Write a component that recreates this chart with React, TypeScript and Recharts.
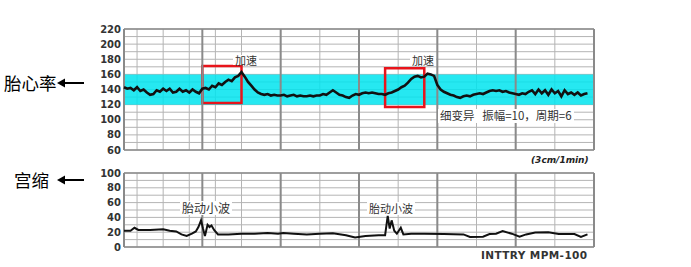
import { LineChart, Line, XAxis, YAxis, CartesianGrid, ReferenceArea, ReferenceLine } from 'recharts';

// fetal heart rate, one sample every 2.5 s over 6 minutes
const fhrValues = [
  143, 141, 142, 139, 143, 138, 140, 136, 133, 134, 139, 137,
  141, 138, 141, 136, 137, 141, 137, 139, 136, 140, 137, 135,
  141, 142, 140, 145, 143, 148, 146, 150, 153, 151, 156, 158,
  163, 157, 150, 145, 140, 136, 134, 133, 134, 132, 133, 132,
  132, 133, 131, 132, 133, 131, 132, 131, 131, 132, 131, 132,
  132, 134, 133, 136, 139, 136, 133, 132, 130, 129, 132, 134,
  133, 135, 136, 135, 136, 135, 134, 134, 133, 135, 136, 138,
  140, 143, 145, 149, 154, 157, 158, 156, 157, 161, 160, 158,
  146, 140, 137, 135, 133, 132, 130, 129, 131, 132, 131, 133,
  134, 135, 134, 136, 138, 139, 138, 139, 137, 138, 136, 135,
  134, 133, 135, 134, 137, 139, 134, 140, 135, 139, 133, 140,
  135, 138, 131, 139, 134, 136, 133, 136, 132, 134, 135,
];

// uterine contraction trace (seconds / value)
const tocoSeconds = [
  0, 5, 8, 11, 20, 30, 35, 40, 44, 48, 52, 55, 57, 59, 60.5, 62, 64, 65.5, 67, 69, 72,
  80, 90, 100, 110, 118, 122, 130, 140, 150, 160, 170, 177, 185, 195, 200, 202, 203.5,
  205, 207, 209, 212, 214, 220, 230, 245, 260, 265, 275, 280, 285, 290, 297, 303, 308,
  315, 325, 333, 345, 350, 355,
];
const tocoValues = [
  22, 22, 26, 23, 23, 24, 22, 21, 17, 15, 18, 21, 27, 36, 25, 15, 30, 27, 29, 23, 17,
  17, 18, 18, 19, 18, 19, 18, 17, 18, 18.5, 16, 13, 15, 16, 16, 42, 25,
  36, 22, 18, 26, 17, 18, 18, 17.5, 17, 13.5, 14, 17.5, 18, 21.5, 18, 14, 17,
  19.5, 20, 17.5, 17.5, 13.5, 17,
];

const fhrTicks = [60, 80, 100, 120, 140, 160, 180, 200, 220];
const fhrGrid = [60, 70, 80, 90, 100, 110, 120, 130, 140, 150, 160, 170, 180, 190, 200, 210, 220];
const tocoTicks = [0, 20, 40, 60, 80, 100];
const tocoGrid = [0, 10, 20, 30, 40, 50, 60, 70, 80, 90, 100];
const timeGrid = [
  0, 10, 20, 30, 40, 50, 60, 70, 80, 90, 100, 110, 120, 130, 140, 150, 160, 170, 180,
  190, 200, 210, 220, 230, 240, 250, 260, 270, 280, 290, 300, 310, 320, 330, 340, 350, 360,
];
const minuteLines = [0, 60, 120, 180, 240, 300, 360];
const accelBoxes = [
  { x1: 60, x2: 90, y1: 122, y2: 171 },
  { x1: 200, x2: 230, y1: 117, y2: 168 },
];

const fhrData = fhrValues.map((v, i) => ({ t: i * 2.5, fhr: v }));
const tocoData = tocoSeconds.map((t, i) => ({ t, toco: tocoValues[i] }));

const tickStyle = { fill: '#333', fontSize: 10, fontWeight: 700, fontFamily: 'DejaVu Sans' };
const cjk = '"Noto Sans CJK SC", sans-serif';

function Arrow({ top }: { top: number }) {
  return (
    <svg width={30} height={12} style={{ position: 'absolute', left: 56, top }}>
      <line x1={4} y1={6} x2={28} y2={6} stroke="#000" strokeWidth={2} />
      <path d="M1 6 L9 1.5 L9 10.5 Z" fill="#000" />
    </svg>
  );
}

function Note({ left, top, size, lh, children }: { left: number; top: number; size: number; lh?: number; children: any }) {
  return (
    <div
      style={{
        position: 'absolute', left, top, fontSize: size, lineHeight: lh ? `${lh}px` : 1, fontFamily: cjk,
        color: '#333', background: '#fff', padding: lh ? '0 2px' : '1px 2px', whiteSpace: 'pre',
      }}
    >
      {children}
    </div>
  );
}

export default function App() {
  return (
    <div style={{ position: 'absolute', left: 0, top: 0, width: 691, height: 267, background: '#fff', overflow: 'hidden' }}>
      <LineChart
        width={691}
        height={160}
        data={fhrData}
        margin={{ top: 29, right: 97, bottom: 10, left: 84 }}
        style={{ position: 'absolute', left: 0, top: 0 }}
      >
        <CartesianGrid stroke="#b4b4b4" horizontalValues={fhrGrid} verticalValues={timeGrid} />
        <ReferenceArea y1={120} y2={160} fill="#00e4ef" fillOpacity={0.85} stroke="none" />
        {minuteLines.map((m) => (
          <ReferenceLine key={m} x={m} stroke="#8a8a8a" strokeWidth={2} />
        ))}
        <ReferenceLine y={60} stroke="#8a8a8a" strokeWidth={1.5} />
        <ReferenceLine y={220} stroke="#8a8a8a" strokeWidth={1.5} />
        <XAxis dataKey="t" type="number" domain={[0, 360]} hide />
        <YAxis
          domain={[60, 220]}
          ticks={fhrTicks}
          interval={0}
          width={40}
          axisLine={false}
          tickLine={false}
          tickSize={0}
          tickMargin={3}
          tick={tickStyle}
        />
        {accelBoxes.map((b, i) => (
          <ReferenceArea key={i} x1={b.x1} x2={b.x2} y1={b.y1} y2={b.y2} fill="none" stroke="#e8141b" strokeWidth={2.5} />
        ))}
        <Line dataKey="fhr" type="linear" stroke="#111" strokeWidth={2.6} dot={false} isAnimationActive={false} />
      </LineChart>

      <LineChart
        width={691}
        height={107}
        data={tocoData}
        margin={{ top: 13, right: 97, bottom: 20, left: 84 }}
        style={{ position: 'absolute', left: 0, top: 160 }}
      >
        <CartesianGrid stroke="#b4b4b4" horizontalValues={tocoGrid} verticalValues={timeGrid} />
        {minuteLines.map((m) => (
          <ReferenceLine key={m} x={m} stroke="#8a8a8a" strokeWidth={2} />
        ))}
        <ReferenceLine y={0} stroke="#8a8a8a" strokeWidth={1.5} />
        <ReferenceLine y={100} stroke="#8a8a8a" strokeWidth={1.5} />
        <XAxis dataKey="t" type="number" domain={[0, 360]} hide />
        <YAxis
          domain={[0, 100]}
          ticks={tocoTicks}
          interval={0}
          width={40}
          axisLine={false}
          tickLine={false}
          tickSize={0}
          tickMargin={3}
          tick={tickStyle}
        />
        <Line dataKey="toco" type="linear" stroke="#111" strokeWidth={2} dot={false} isAnimationActive={false} />
      </LineChart>

      <div style={{ position: 'absolute', left: 4, top: 74, fontSize: 17.5, lineHeight: 1, fontFamily: cjk, color: '#000' }}>胎心率</div>
      <Arrow top={77} />
      <div style={{ position: 'absolute', left: 14, top: 171, fontSize: 17.5, lineHeight: 1, fontFamily: cjk, color: '#000' }}>宫缩</div>
      <Arrow top={174} />

      <Note left={233} top={55} size={11} lh={10}>加速</Note>
      <Note left={410} top={55} size={11} lh={10}>加速</Note>
      <Note left={438} top={109} size={11.5}>{'细变异   振幅=10，周期=6'}</Note>
      <Note left={180} top={201} size={12}>胎动小波</Note>
      <Note left={367} top={202} size={11}>胎动小波</Note>

      <div style={{ position: 'absolute', left: 531, top: 156, fontSize: 9, lineHeight: 1, fontFamily: 'DejaVu Sans', fontWeight: 700, fontStyle: 'italic', color: '#222' }}>
        (3cm/1min)
      </div>
      <div style={{ position: 'absolute', left: 481, top: 250, fontSize: 10.5, lineHeight: 1, fontFamily: 'DejaVu Sans', fontWeight: 700, color: '#333', letterSpacing: 0.4 }}>
        INTTRY MPM-100
      </div>
    </div>
  );
}
